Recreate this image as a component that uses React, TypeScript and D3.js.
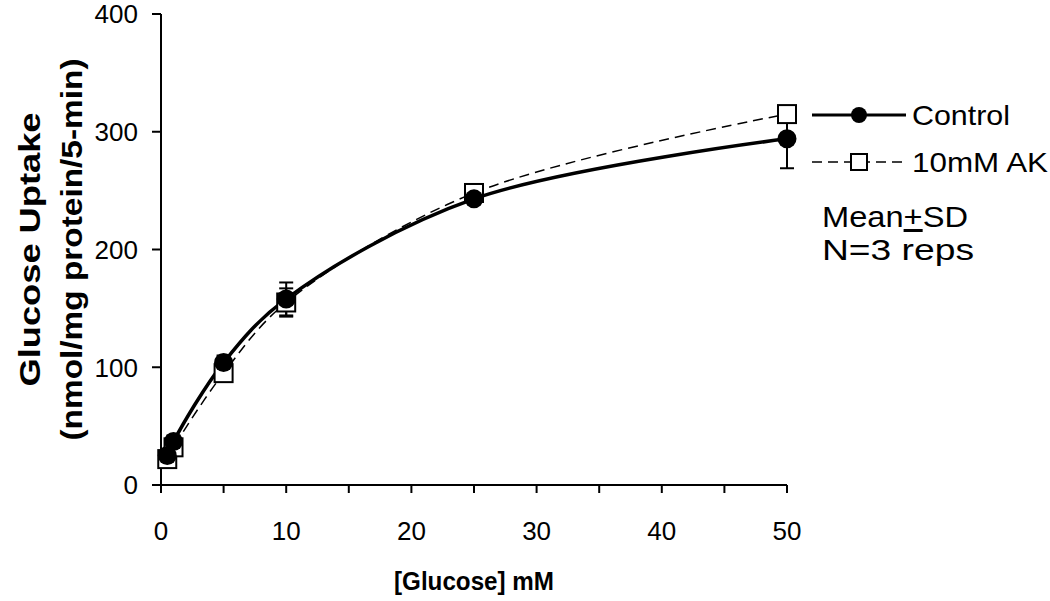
import React from 'react';
import * as d3 from 'd3';

const glucose = [0.5, 1, 5, 10, 25, 50];
const controlMean = [25, 37, 104, 158, 243, 294];
const controlSd = [4, 5, 6, 14, 4, 25];
const akMean = [22, 32, 95, 155, 248, 315];
const akSd = [3, 4, 5, 12, 4, 5];
const xTicks = [0, 10, 20, 30, 40, 50];
const xMinorTicks = [5, 15, 25, 35, 45];
const yTicks = [0, 100, 200, 300, 400];

const margins = { left: 161, right: 263, top: 14, bottom: 116 };
const width = 1050;
const height = 601;

const font = 'Liberation Sans, Arial, sans-serif';

export default function App() {
  const x = d3.scaleLinear().domain([0, 50]).range([margins.left, width - margins.right]);
  const y = d3.scaleLinear().domain([0, 400]).range([height - margins.bottom, margins.top]);

  const line = d3
    .line<number>()
    .x((d, i) => x(glucose[i]))
    .y(d => y(d))
    .curve(d3.curveCatmullRom.alpha(0.5));

  const errBars = (means: number[], sds: number[], key: string) =>
    means.map((m, i) => {
      const cx = x(glucose[i]);
      const y1 = y(m - sds[i]);
      const y2 = y(m + sds[i]);
      return (
        <g key={key + i} stroke="#000" strokeWidth={2}>
          <line x1={cx} x2={cx} y1={y1} y2={y2} />
          <line x1={cx - 7} x2={cx + 7} y1={y1} y2={y1} />
          <line x1={cx - 7} x2={cx + 7} y1={y2} y2={y2} />
        </g>
      );
    });

  const y0 = y(0);
  const fit = { lengthAdjust: 'spacingAndGlyphs' as const };

  return (
    <svg width={width} height={height} style={{ position: 'absolute', left: 0, top: 0 }} fontFamily={font}>
      <rect width={width} height={height} fill="#fff" />

      {/* axes */}
      <g stroke="#000" strokeWidth={2}>
        <line x1={x(0)} x2={x(0)} y1={y(400)} y2={y0 + 8} />
        <line x1={x(0) - 9} x2={x(50)} y1={y0} y2={y0} />
        {yTicks.map(t => (
          <line key={'yt' + t} x1={x(0) - 9} x2={x(0)} y1={y(t)} y2={y(t)} />
        ))}
        {xTicks.concat(xMinorTicks).map(t => (
          <line key={'xt' + t} x1={x(t)} x2={x(t)} y1={y0} y2={y0 + 8} />
        ))}
      </g>
      {yTicks.map(t => (
        <text key={'yl' + t} x={x(0) - 23} y={y(t)} dy="0.36em" textAnchor="end" fontSize={26}>
          {t}
        </text>
      ))}
      {xTicks.map(t => (
        <text key={'xl' + t} x={x(t)} y={y0 + 55} textAnchor="middle" fontSize={26}>
          {t}
        </text>
      ))}
      <text x={x(25)} y={590} textAnchor="middle" fontSize={25} fontWeight="bold" textLength={160} {...fit}>
        [Glucose] mM
      </text>
      <g transform={`translate(40, ${y(200)}) rotate(-90)`}>
        <text x={0} y={0} textAnchor="middle" fontSize={29} fontWeight="bold" textLength={274} {...fit}>
          Glucose Uptake
        </text>
        <text x={0} y={42} textAnchor="middle" fontSize={29} fontWeight="bold" textLength={382} {...fit}>
          (nmol/mg protein/5-min)
        </text>
      </g>

      {/* error bars */}
      {errBars(controlMean, controlSd, 'ce')}
      {errBars(akMean, akSd, 'ae')}

      {/* lines */}
      <path d={line(akMean) || ''} fill="none" stroke="#000" strokeWidth={1.5} strokeDasharray="10,6" />
      <path d={line(controlMean) || ''} fill="none" stroke="#000" strokeWidth={3.5} />

      {/* markers */}
      {akMean.map((m, i) => (
        <rect key={'am' + i} x={x(glucose[i]) - 9} y={y(m) - 9} width={18} height={18} fill="#fff" stroke="#000" strokeWidth={2} />
      ))}
      {controlMean.map((m, i) => (
        <circle key={'cm' + i} cx={x(glucose[i])} cy={y(m)} r={9.5} fill="#000" />
      ))}

      {/* legend */}
      <line x1={812} x2={906} y1={115} y2={115} stroke="#000" strokeWidth={3} />
      <circle cx={859} cy={115} r={8} fill="#000" />
      <text x={912} y={115} dy="0.36em" fontSize={28} textLength={98} {...fit}>Control</text>
      <line x1={812} x2={906} y1={162} y2={162} stroke="#000" strokeWidth={1.5} strokeDasharray="10,6" />
      <rect x={851} y={154} width={16} height={16} fill="#fff" stroke="#000" strokeWidth={2} />
      <text x={912} y={162} dy="0.36em" fontSize={28} textLength={136} {...fit}>10mM AK</text>
      <text x={822} y={227} fontSize={30} textLength={146} {...fit}>
        Mean
        <tspan textDecoration="underline">+</tspan>
        SD
      </text>
      <text x={822} y={260} fontSize={30} textLength={152} {...fit}>N=3 reps</text>
    </svg>
  );
}
